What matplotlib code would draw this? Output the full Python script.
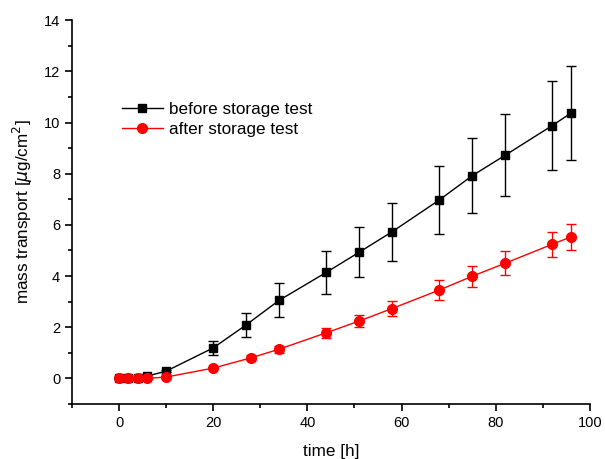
import matplotlib
matplotlib.use("Agg")
import matplotlib.pyplot as plt
from matplotlib.ticker import MultipleLocator

plt.rcParams['font.family'] = ['Liberation Sans', 'DejaVu Sans']

t_before = [0, 2, 4, 6, 10, 20, 27, 34, 44, 51, 58, 68, 75, 82, 92, 96]
m_before = [0.0, 0.0, 0.02, 0.09, 0.28, 1.19, 2.09, 3.05, 4.14, 4.93, 5.73, 6.97, 7.92, 8.72, 9.88, 10.37]
e_before = [0.0, 0.0, 0.05, 0.03, 0.04, 0.27, 0.46, 0.66, 0.83, 0.98, 1.13, 1.33, 1.47, 1.60, 1.75, 1.83]

t_after = [0, 2, 4, 6, 10, 20, 28, 34, 44, 51, 58, 68, 75, 82, 92, 96]
m_after = [0.0, 0.0, 0.0, 0.0, 0.05, 0.40, 0.80, 1.14, 1.78, 2.24, 2.73, 3.45, 3.99, 4.50, 5.24, 5.53]
e_after = [0.0, 0.0, 0.0, 0.0, 0.02, 0.05, 0.10, 0.14, 0.20, 0.24, 0.31, 0.39, 0.42, 0.46, 0.50, 0.52]

fig = plt.figure(figsize=(6.05, 4.59), dpi=100)
ax = fig.add_axes([0.119, 0.12, 0.856, 0.836])

ax.errorbar(t_before, m_before, yerr=e_before, fmt='none', ecolor='black',
            elinewidth=1, capsize=3.5, capthick=1, zorder=2)
ln1, = ax.plot(t_before, m_before, '-', color='black', lw=1, marker='s',
               markersize=5.5, markerfacecolor='black', markeredgecolor='black',
               label='before storage test', zorder=3)
ax.errorbar(t_after, m_after, yerr=e_after, fmt='none', ecolor='red',
            elinewidth=1, capsize=3.5, capthick=1, zorder=4)
ln2, = ax.plot(t_after, m_after, '-', color='red', lw=1, marker='o',
               markersize=7, markerfacecolor='red', markeredgecolor='red',
               label='after storage test', zorder=5)

ax.set_xlim(-10, 100)
ax.set_ylim(-1, 14)
ax.xaxis.set_major_locator(MultipleLocator(20))
ax.xaxis.set_minor_locator(MultipleLocator(10))
ax.yaxis.set_major_locator(MultipleLocator(2))
ax.yaxis.set_minor_locator(MultipleLocator(1))

for s in ['top', 'right']:
    ax.spines[s].set_visible(False)
for s in ['left', 'bottom']:
    ax.spines[s].set_linewidth(1.2)

ax.tick_params(which='major', direction='out', length=5, width=1.2, labelsize=10.5, colors='black')
ax.tick_params(which='minor', direction='out', length=3, width=1.2)

ax.set_xlabel('time [h]', fontsize=12.3, labelpad=10)
ax.set_ylabel(r'mass transport [$\mu$g/cm$^2$]', fontsize=12.3, labelpad=6)

ax.legend(handles=[ln1, ln2], loc='center left', bbox_to_anchor=(0.083, 0.741),
          frameon=False, fontsize=12.3, handlelength=2.4, handletextpad=0.35,
          labelspacing=0.3, borderaxespad=0)

fig.savefig('out.png', dpi=100)
